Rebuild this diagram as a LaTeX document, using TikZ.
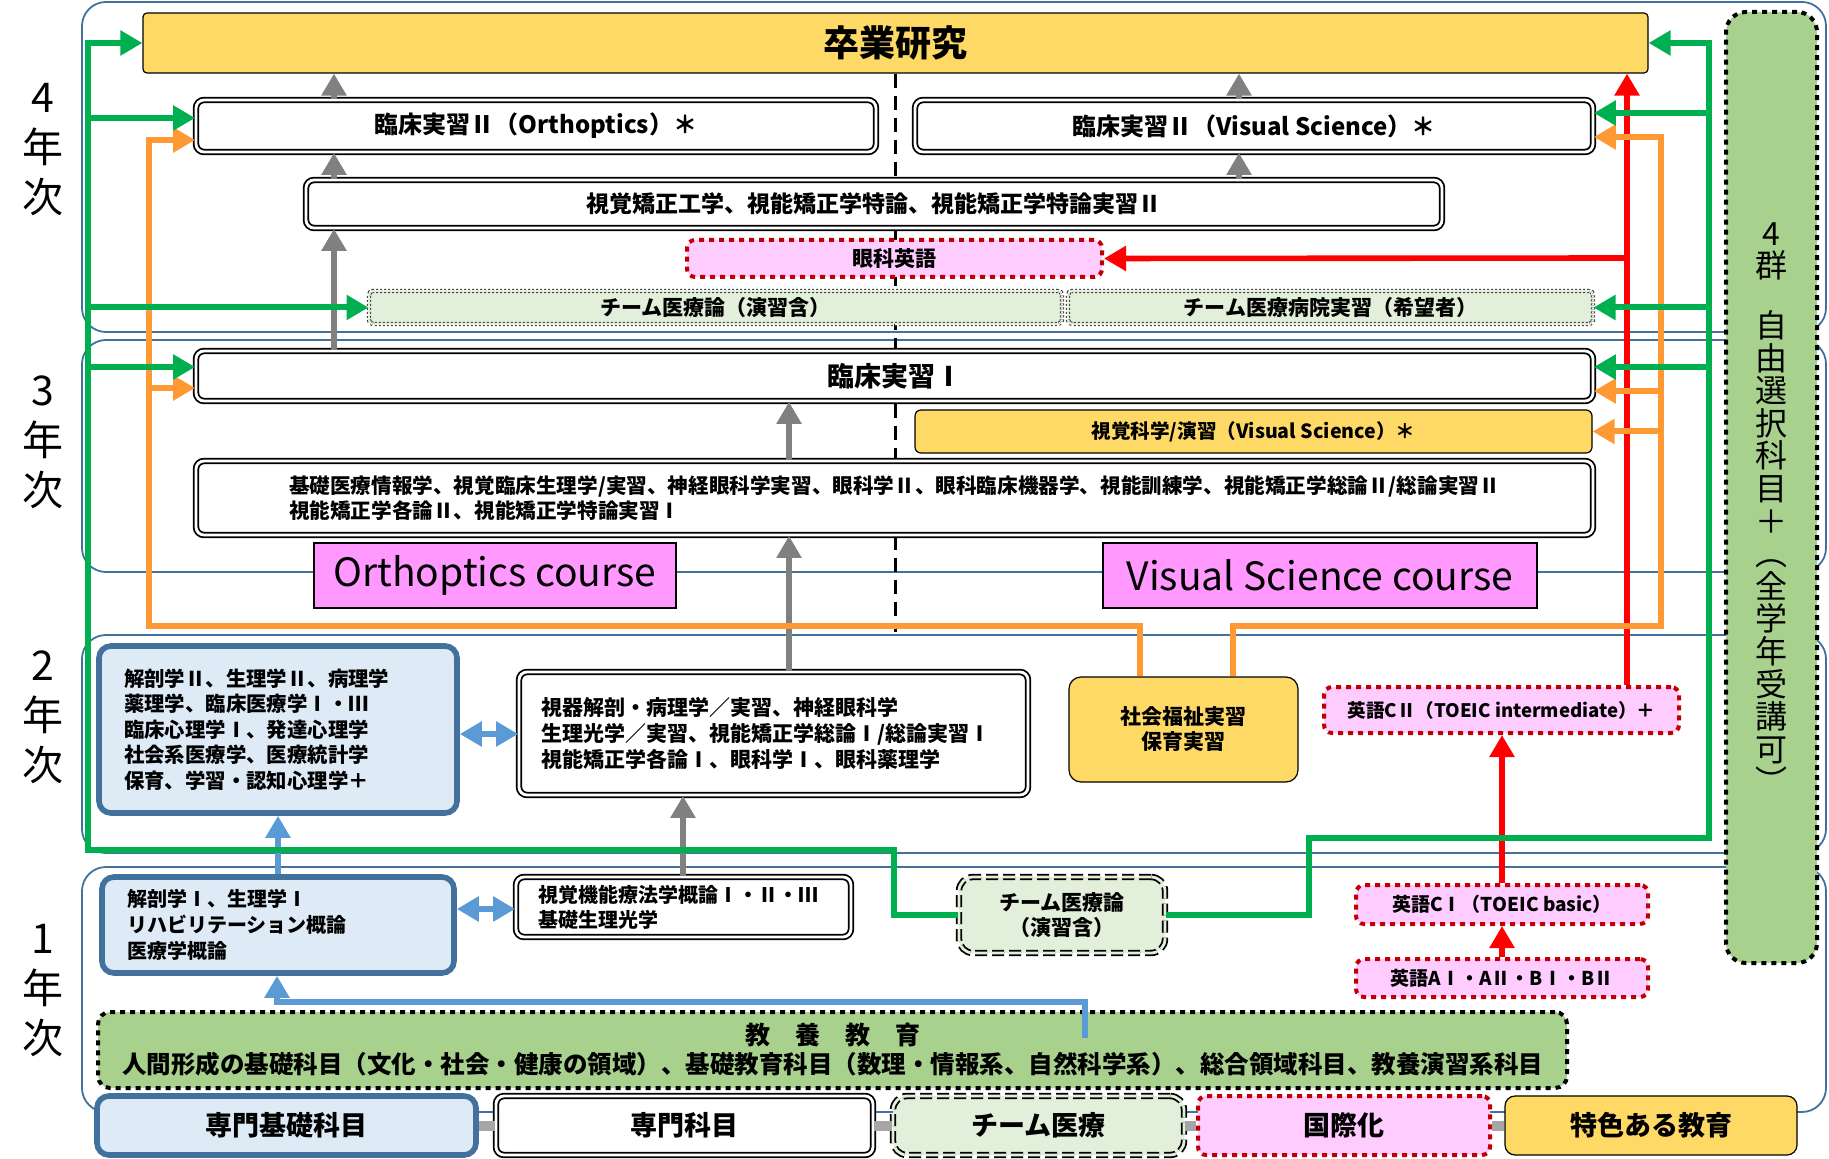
\documentclass[tikz,border=0pt]{standalone}
\usepackage{fontspec}
\setmainfont{Noto Sans CJK JP}
\usetikzlibrary{arrows.meta}

\definecolor{yelfill}{HTML}{FFD966}
\definecolor{pinkfill}{HTML}{FFCCFF}
\definecolor{coursefill}{HTML}{FF99FF}
\definecolor{teamfill}{HTML}{E2EFDA}
\definecolor{kyoyofill}{HTML}{A9D18E}
\definecolor{kisofill}{HTML}{DEEBF7}
\definecolor{kisoline}{HTML}{41719C}
\definecolor{redline}{HTML}{C00000}
\definecolor{framec}{HTML}{41719C}
\definecolor{arrgreen}{HTML}{00B050}
\definecolor{arrorange}{HTML}{FF9933}
\definecolor{arrred}{HTML}{FF0000}
\definecolor{arrgray}{HTML}{808080}
\definecolor{arrblue}{HTML}{5B9BD5}
\definecolor{barc}{HTML}{A6A6A6}

\newcommand{\fs}[2]{\fontsize{#1}{#2}\selectfont}

\tikzset{boxspan/.style n args={4}{minimum width={(#3-#1)*0.5pt}, minimum height={(#4-#2)*0.5pt}, at={({(#1+#3)/2},{(#2+#4)/2})}}}
\tikzstyle{yearframe} = [draw=framec, line width=0.9pt, rounded corners=12pt]
\tikzstyle{nbox} = [inner sep=0pt, align=center, font=\bfseries\fs{10}{12.8}]
\tikzstyle{senmon} = [nbox, draw, double, double distance=1.4pt, line width=0.9pt, fill=white, rounded corners=4pt]
\tikzstyle{kisobox} = [nbox, draw=kisoline, line width=2.8pt, fill=kisofill, rounded corners=6pt]
\tikzstyle{teambox} = [nbox, draw, double=teamfill, double distance=1.4pt, line width=0.9pt, dash pattern=on 6pt off 2.5pt, fill=teamfill, rounded corners=7pt]
\tikzstyle{teamdot} = [nbox, draw=black!80, double=teamfill, double distance=1.2pt, line width=0.5pt, dash pattern=on 1pt off 1pt, fill=teamfill, rounded corners=2pt]
\tikzstyle{kokusai} = [nbox, draw=redline, line width=2pt, dash pattern=on 2.5pt off 2.5pt, fill=pinkfill, rounded corners=4pt]
\tikzstyle{tokushoku} = [nbox, draw, line width=0.6pt, fill=yelfill, rounded corners=5pt]
\tikzstyle{jiyu} = [nbox, draw, line width=2pt, dash pattern=on 2.5pt off 2.5pt, fill=kyoyofill, rounded corners=10pt]
\tikzstyle{course} = [inner sep=0pt, draw, line width=0.8pt, fill=coursefill, font=\fs{19.5}{22}]
\tikzstyle{year} = [inner sep=0pt, align=center, font=\fs{20.5}{25}]
\tikzstyle{gline} = [draw=arrgreen, line width=3pt]
\tikzstyle{garrow} = [gline, -{Triangle[length=11pt,width=12pt]}]
\tikzstyle{oarrow} = [draw=arrorange, line width=3pt, -{Triangle[length=11pt,width=12pt]}]
\tikzstyle{rarrow} = [draw=arrred, line width=2.8pt, -{Triangle[length=11pt,width=12pt]}]
\tikzstyle{grarrow} = [draw=arrgray, line width=3.2pt, -{Triangle[length=11pt,width=12pt]}]
\tikzstyle{barrow} = [draw=arrblue, line width=3pt, -{Triangle[length=11pt,width=12pt]}]
\tikzstyle{bdarrow} = [draw=arrblue, line width=3pt, {Triangle[length=11pt,width=12pt]}-{Triangle[length=11pt,width=12pt]}]
\tikzstyle{cline} = [line width=1.5pt, dash pattern=on 7pt off 4pt]
\tikzstyle{lbar} = [draw=barc, line width=5pt]

\begin{document}
\begin{tikzpicture}[x=0.5pt, y=-0.5pt]
\useasboundingbox (0,0) rectangle (1829,1159);

% year frames
\draw[yearframe] (82,2) rectangle (1826,332);
\draw[yearframe] (82,340) rectangle (1826,572);
\draw[yearframe] (82,635) rectangle (1826,853);
\draw[yearframe] (82,867) rectangle (1826,1112);

\node[year] (y4) at (43,150) {4\\年\\次};
\node[year] (y3) at (43,442) {3\\年\\次};
\node[year] (y2) at (43,717) {2\\年\\次};
\node[year] (y1) at (43,991) {1\\年\\次};

% 4th year
\node[tokushoku, rounded corners=2pt, boxspan={143}{13}{1648}{73}, font=\bfseries\fs{18}{20}] (sotsu) {卒業研究};
\draw[cline] (sotsu.south) -- (sotsu.south |- 0,632);
\node[senmon, boxspan={196}{100}{876}{152}, font=\bfseries\fs{12}{15}] (rin2o) {臨床実習Ⅱ（Orthoptics）＊};
\node[senmon, boxspan={915}{100}{1593}{152}, font=\bfseries\fs{12}{15}] (rin2v) {臨床実習Ⅱ（Visual Science）＊};
\node[senmon, boxspan={306}{180}{1442}{228}, font=\bfseries\fs{11.5}{13}] (kyosei) {視覚矯正工学、視能矯正学特論、視能矯正学特論実習Ⅱ};
\node[kokusai, boxspan={687}{240}{1102}{277}, font=\bfseries\fs{10.5}{12}] (ganka) {眼科英語};
\node[teamdot, boxspan={369}{291}{1062}{324}, font=\bfseries\fs{10.5}{12}] (team4) {チーム医療論（演習含）};
\node[teamdot, boxspan={1068}{291}{1593}{324}, font=\bfseries\fs{10.5}{12}] (teamhosp) {チーム医療病院実習（希望者）};

% 3rd year
\node[senmon, boxspan={196}{351}{1593}{401}, font=\bfseries\fs{13.5}{15}] (rin1) {臨床実習Ⅰ};
\node[tokushoku, rounded corners=3pt, boxspan={915}{410}{1592}{453}, font=\bfseries\fs{9.8}{12}] (shikaku) {視覚科学/演習（Visual Science）＊};
\node[senmon, boxspan={196}{461}{1593}{535}, align=left, font=\bfseries\fs{10.3}{12.5}] (kiso3) {基礎医療情報学、視覚臨床生理学/実習、神経眼科学実習、眼科学Ⅱ、眼科臨床機器学、視能訓練学、視能矯正学総論Ⅱ/総論実習Ⅱ\\視能矯正学各論Ⅱ、視能矯正学特論実習Ⅰ};
\node[course, boxspan={314}{543}{676}{608}] (ortho) {Orthoptics course};
\node[course, boxspan={1103}{543}{1537}{608}] (visual) {Visual Science course};

% 2nd year
\node[kisobox, boxspan={99}{646}{457}{813}, text width=154pt, align=left, font=\bfseries\fs{10.2}{12.7}] (kaibou2) {解剖学Ⅱ、生理学Ⅱ、病理学\\薬理学、臨床医療学Ⅰ・Ⅲ\\臨床心理学Ⅰ、発達心理学\\社会系医療学、医療統計学\\保育、学習・認知心理学＋};
\node[senmon, boxspan={519}{672}{1028}{795}, text width=232pt, align=left, font=\bfseries\fs{10.5}{13}] (shiki2) {視器解剖・病理学／実習、神経眼科学\\生理光学／実習、視能矯正学総論Ⅰ/総論実習Ⅰ\\視能矯正学各論Ⅰ、眼科学Ⅰ、眼科薬理学};
\node[tokushoku, rounded corners=6pt, boxspan={1069}{677}{1298}{782}, font=\bfseries\fs{10.5}{12.5}] (shakai) {社会福祉実習\\保育実習};
\node[kokusai, boxspan={1324}{687}{1679}{733}, font=\bfseries\fs{9.3}{12}] (eigoC2) {英語CⅡ（TOEIC intermediate）＋};

% 1st year
\node[kisobox, boxspan={102}{877}{454}{973}, text width=151pt, align=left, font=\bfseries\fs{10}{13}] (kaibou1) {解剖学Ⅰ、生理学Ⅰ\\リハビリテーション概論\\医療学概論};
\node[senmon, boxspan={516}{877}{851}{937}, text width=145pt, align=left, font=\bfseries\fs{10}{12.5}] (shikaku1) {視覚機能療法学概論Ⅰ・Ⅱ・Ⅲ\\基礎生理光学};
\node[teambox, boxspan={959}{877}{1165}{953}, font=\bfseries\fs{10.5}{12.5}] (team1) {チーム医療論\\（演習含）};
\node[kokusai, boxspan={1356}{885}{1648}{924}, font=\bfseries\fs{9.5}{12}] (eigoC1) {英語CⅠ（TOEIC basic）};
\node[kokusai, boxspan={1356}{959}{1648}{997}, font=\bfseries\fs{9.5}{12}] (eigoA) {英語AⅠ・AⅡ・BⅠ・BⅡ};
\node[jiyu, rounded corners=6pt, boxspan={98}{1012}{1567}{1088}, font=\bfseries\fs{12.25}{14.5}] (kyoyo) {{\fs{12.5}{14.5}教　養　教　育}\\人間形成の基礎科目（文化・社会・健康の領域）、基礎教育科目（数理・情報系、自然科学系）、総合領域科目、教養演習系科目};

% 4群
\node[jiyu, boxspan={1726}{12}{1817}{963}] (gun4) {};
\node[inner sep=0pt, align=center, anchor=north, font=\fs{16}{16.3}] (gun4txt) at (1771,222) {4\\群\\[13.5pt]自\\由\\選\\択\\科\\目\\＋\\︵\\全\\学\\年\\受\\講\\可\\︶};

% legend
\node[kisobox, boxspan={97}{1096}{476}{1155}, font=\bfseries\fs{13.5}{15}] (lg1) {専門基礎科目};
\node[senmon, boxspan={496}{1096}{873}{1155}, font=\bfseries\fs{13.5}{15}] (lg2) {専門科目};
\node[teambox, boxspan={893}{1096}{1184}{1155}, font=\bfseries\fs{13.5}{15}] (lg3) {チーム医療};
\node[kokusai, boxspan={1198}{1096}{1490}{1155}, font=\bfseries\fs{13.5}{15}] (lg4) {国際化};
\node[tokushoku, boxspan={1505}{1096}{1797}{1155}, font=\bfseries\fs{13.5}{15}] (lg5) {特色ある教育};
\draw[lbar] (lg1.east) -- (lg2.west);
\draw[lbar] (lg2.east) -- (lg3.west);
\draw[lbar] (lg3.east) -- (lg4.west);
\draw[lbar] (lg4.east) -- (lg5.west);

% gray arrows
\draw[grarrow] (rin2o.north -| 334,0) -- (sotsu.south -| 334,0);
\draw[grarrow] (kyosei.north -| 334,0) -- (rin2o.south -| 334,0);
\draw[grarrow] (rin1.north -| 334,0) -- (kyosei.south -| 334,0);
\draw[grarrow] (rin2v.north -| 1239,0) -- (sotsu.south -| 1239,0);
\draw[grarrow] (kyosei.north -| 1239,0) -- (rin2v.south -| 1239,0);
\draw[grarrow] (kiso3.north -| 789,0) -- (rin1.south -| 789,0);
\draw[grarrow] (shiki2.north -| 789,0) -- (kiso3.south -| 789,0);
\draw[grarrow] (shikaku1.north -| 683,0) -- (shiki2.south -| 683,0);

% blue arrows
\draw[bdarrow] (kaibou2.east |- 0,734) -- (shiki2.west |- 0,734);
\draw[bdarrow] (kaibou1.east |- 0,909) -- (shikaku1.west |- 0,909);
\draw[barrow] (kaibou1.north -| 278,0) -- (kaibou2.south -| 278,0);
\coordinate (kyoyob) at (1085,1038);
\draw[barrow] (kyoyob) |- (277,1002) -- (kaibou1.south -| 277,0);

% red arrows
\coordinate (rj) at (1627,258);
\draw[rarrow] (eigoC2.north -| rj) -- (sotsu.south -| rj);
\draw[rarrow] (rj) -- (ganka.east);
\draw[rarrow] (eigoC1.north) -- (eigoC2.south -| eigoC1.north);
\draw[rarrow] (eigoA.north) -- (eigoC1.south);

% orange arrows
\path ([yshift=-7pt]rin2o.west) coordinate (o2o)
      ([yshift=-6pt]rin1.west) coordinate (o1o)
      ([yshift=-5.5pt]rin2v.east) coordinate (o2v)
      ([yshift=-7.5pt]rin1.east) coordinate (o1v);
\coordinate (ol) at (149,626);
\coordinate (or) at (1661,626);
\draw[oarrow] (shakai.north -| 1140,0) |- (ol) |- (o2o);
\draw[oarrow] (ol |- o1o) -- (o1o);
\draw[oarrow] (shakai.north -| 1233,0) |- (or) |- (o2v);
\draw[oarrow] (or |- o1v) -- (o1v);
\draw[oarrow] (or |- shikaku.east) -- (shikaku.east);

% green arrows
\path ([yshift=4pt]rin2o.west) coordinate (g2o)
      ([yshift=4.5pt]rin1.west) coordinate (g1o)
      ([yshift=6.5pt]rin2v.east) coordinate (g2v)
      ([yshift=4.5pt]rin1.east) coordinate (g1v);
\coordinate (gl) at (sotsu.west -| 88,0);
\coordinate (gr) at (sotsu.east -| 1709,0);
\draw[garrow] (team1.west) -| (894,850) -| (gl) -- (sotsu.west);
\draw[garrow] (gl |- g2o) -- (g2o);
\draw[garrow] (gl |- team4.west) -- (team4.west);
\draw[garrow] (gl |- g1o) -- (g1o);
\draw[garrow] (team1.east) -| (1309,838) -| (gr) -- (sotsu.east);
\draw[garrow] (gr |- g2v) -- (g2v);
\draw[garrow] (gr |- teamhosp.east) -- (teamhosp.east);
\draw[garrow] (gr |- g1v) -- (g1v);
\end{tikzpicture}
\end{document}
